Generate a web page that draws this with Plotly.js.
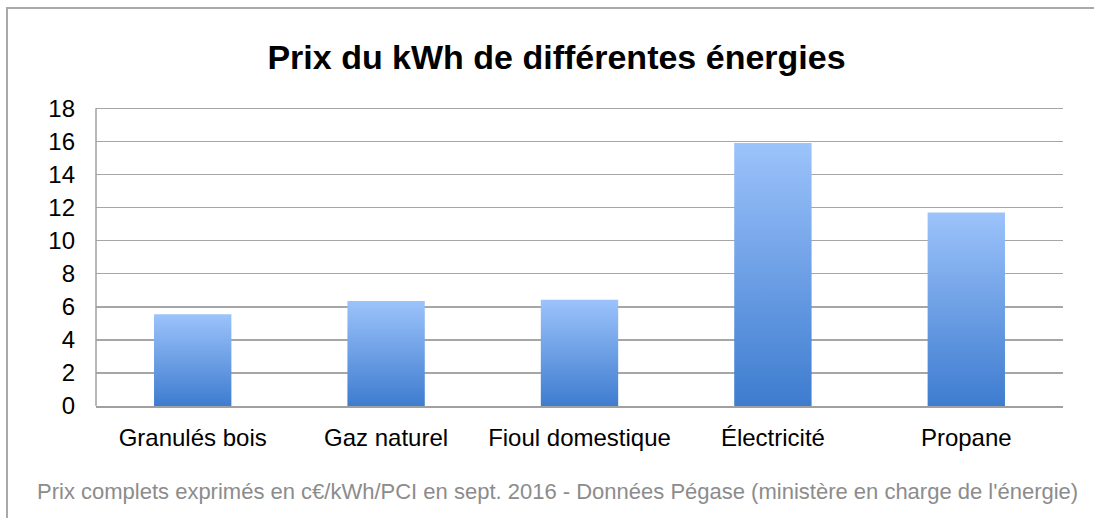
<!DOCTYPE html>
<html>
<head>
<meta charset="utf-8">
<script src="https://cdn.plot.ly/plotly-3.0.1.min.js"></script>
<style>
  html, body { margin: 0; padding: 0; background: #ffffff; }
  #chart { width: 1094px; height: 518px; position: relative; }
  #frame { position: absolute; left: 6px; top: 7px; right: 0; bottom: 0;
           border-top: 2px solid #a9a9a9; border-left: 2px solid #a9a9a9;
           pointer-events: none; }
</style>
</head>
<body>
<div style="position:relative;width:1094px;height:518px;">
  <div id="chart"></div>
  <div id="frame"></div>
</div>
<script>
const categories = ["Granulés bois", "Gaz naturel", "Fioul domestique", "Électricité", "Propane"];
const prices = [5.55, 6.35, 6.42, 15.9, 11.7];
const yTickValues = [0, 2, 4, 6, 8, 10, 12, 14, 16, 18];
const titleText = "Prix du kWh de différentes énergies";
const footnoteText = "Prix complets exprimés en c€/kWh/PCI en sept. 2016 - Données Pégase (ministère en charge de l'énergie)";

const font = "Liberation Sans, Arial, Helvetica, sans-serif";
const yMax = yTickValues[yTickValues.length - 1];

const trace = {
  type: "bar",
  x: categories,
  y: prices,
  marker: { color: "#6a9fe6", line: { width: 0 } },
  hoverinfo: "x+y"
};

const layout = {
  width: 1094,
  height: 518,
  margin: { l: 96, r: 31, t: 104.7, b: 112 },
  paper_bgcolor: "rgba(0,0,0,0)",
  plot_bgcolor: "#ffffff",
  bargap: 0.6,
  showlegend: false,
  title: {
    text: "<b>" + titleText + "</b>",
    font: { family: font, size: 34, color: "#000000" },
    x: 556.5 / 1094, xanchor: "center", xref: "container",
    y: 1 - 57 / 518, yanchor: "middle", yref: "container"
  },
  xaxis: {
    type: "category",
    showgrid: false,
    showline: true, linecolor: "#a0a0a0", linewidth: 1.5,
    ticks: "",
    ticklabelstandoff: 10,
    tickfont: { family: font, size: 24, color: "#000000" },
    fixedrange: true
  },
  yaxis: {
    range: [0, 18.2],
    tickvals: yTickValues,
    ticktext: yTickValues.map(String),
    showgrid: true, gridcolor: "#a6a6a6", gridwidth: 1.5,
    zeroline: false,
    showline: false,
    ticks: "",
    ticklabelstandoff: 20,
    tickfont: { family: font, size: 24, color: "#000000" },
    fixedrange: true
  },
  shapes: [{
    type: "line", xref: "paper", yref: "y",
    x0: 0, x1: 0, y0: 0, y1: yMax,
    line: { color: "#a0a0a0", width: 1.5 }
  }],
  annotations: [{
    text: footnoteText,
    xref: "paper", yref: "paper",
    x: (557.5 - 96) / 967, y: (406 - 492) / 301.3,
    xanchor: "center", yanchor: "middle",
    showarrow: false,
    font: { family: font, size: 22, color: "#8c8c8c" }
  }]
};

Plotly.newPlot("chart", [trace], layout, { displayModeBar: false, staticPlot: true }).then(function (gd) {
  const svg = gd.querySelector("svg.main-svg");
  const ns = "http://www.w3.org/2000/svg";
  let defs = svg.querySelector("defs");
  if (!defs) { defs = document.createElementNS(ns, "defs"); svg.insertBefore(defs, svg.firstChild); }
  const grad = document.createElementNS(ns, "linearGradient");
  grad.setAttribute("id", "barGrad");
  grad.setAttribute("x1", "0"); grad.setAttribute("y1", "0");
  grad.setAttribute("x2", "0"); grad.setAttribute("y2", "1");
  const s1 = document.createElementNS(ns, "stop");
  s1.setAttribute("offset", "0"); s1.setAttribute("stop-color", "#9cc3fb");
  const s2 = document.createElementNS(ns, "stop");
  s2.setAttribute("offset", "1"); s2.setAttribute("stop-color", "#3e7ccf");
  grad.appendChild(s1); grad.appendChild(s2);
  defs.appendChild(grad);
  gd.querySelectorAll(".bars .point path").forEach(function (p) {
    p.style.fill = "url(#barGrad)";
  });
});
</script>
</body>
</html>
